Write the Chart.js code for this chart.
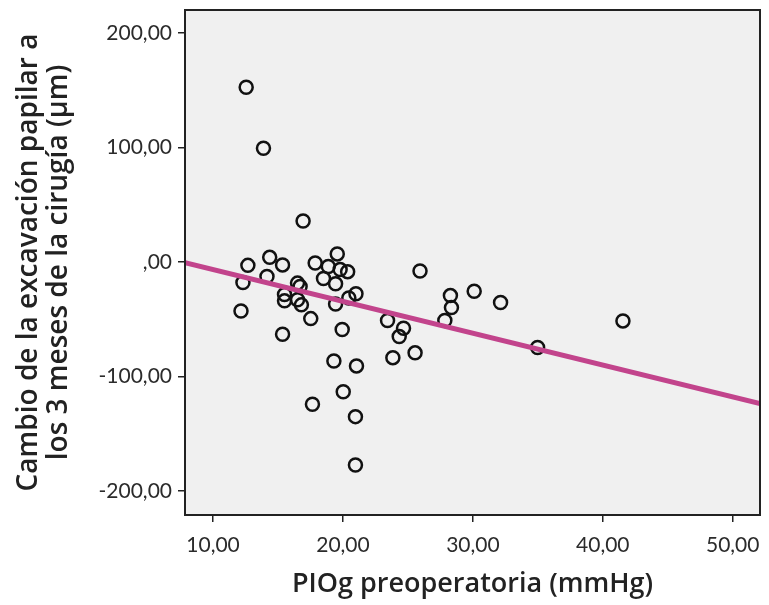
<!DOCTYPE html>
<html>
<head>
<meta charset="utf-8">
<script src="https://cdn.jsdelivr.net/npm/chart.js@4"></script>
<style>
  html, body { margin: 0; padding: 0; background: #ffffff; }
  #wrap { width: 769px; height: 605px; }
</style>
</head>
<body>
<div id="wrap"><canvas id="c" width="769" height="605"></canvas></div>
<script>
// Preoperative IOP (mmHg) per eye
const pioPreop = [
  12.55, 13.88, 16.93, 12.68, 14.36, 15.35, 12.30, 14.15, 12.15, 15.35,
  15.50, 15.50, 16.50, 16.70, 16.50, 16.80, 17.86, 18.87, 19.56, 19.78,
  20.36, 18.50, 19.43, 21.00, 20.45, 19.43, 17.52, 19.94, 23.43, 24.66,
  24.33, 25.93, 28.27, 28.35, 27.84, 30.10, 32.13, 34.98, 41.55, 25.55,
  19.30, 21.04, 23.84, 20.02, 17.65, 20.96, 20.96
];
// Change in optic cup excavation 3 months after surgery (µm)
const cupChange = [
  152.6, 99.3, 35.8, -3.0, 4.0, -2.6, -18.0, -12.8, -42.8, -63.2,
  -28.5, -34.0, -18.5, -21.5, -33.0, -37.5, -1.0, -4.0, 7.0, -6.7,
  -8.5, -14.5, -19.0, -27.8, -31.5, -36.7, -49.5, -59.0, -51.2, -57.9,
  -65.2, -7.9, -29.4, -39.9, -51.2, -25.6, -35.5, -74.8, -51.5, -79.4,
  -86.5, -90.8, -83.6, -113.3, -124.3, -135.1, -177.3
];
// Linear fit: intercept, slope
const fitIntercept = 21.2;
const fitSlope = -2.78;

const xRange = [7.84, 52.1];
const yRange = [-221, 220];
const xTicks = [10, 20, 30, 40, 50];
const yTicks = [-200, -100, 0, 100, 200];

const fmt = v => (v === 0 ? ',00' : v.toFixed(2).replace('.', ','));

const points = pioPreop.map((x, i) => ({ x: x, y: cupChange[i] }));
const fitLine = xRange.map(x => ({ x: x, y: fitIntercept + fitSlope * x }));

const plotFrame = {
  id: 'plotFrame',
  beforeDatasetsDraw(chart) {
    const a = chart.chartArea, ctx = chart.ctx;
    ctx.save();
    ctx.fillStyle = '#f0f0f0';
    ctx.fillRect(a.left, a.top, a.right - a.left, a.bottom - a.top);
    ctx.restore();
  },
  afterDatasetsDraw(chart) {
    const a = chart.chartArea, ctx = chart.ctx;
    ctx.save();
    ctx.strokeStyle = '#222222';
    ctx.lineWidth = 2;
    ctx.strokeRect(a.left, a.top, a.right - a.left, a.bottom - a.top);
    ctx.restore();
  }
};

new Chart(document.getElementById('c'), {
  type: 'scatter',
  data: {
    datasets: [
      {
        type: 'line',
        data: fitLine,
        borderColor: '#c2448c',
        borderWidth: 5,
        pointRadius: 0,
        fill: false,
        order: 0
      },
      {
        data: points,
        pointStyle: 'circle',
        pointRadius: 6.5,
        pointBorderWidth: 2.5,
        pointBorderColor: '#111111',
        pointBackgroundColor: 'rgba(0,0,0,0)',
        order: 1
      }
    ]
  },
  plugins: [plotFrame],
  options: {
    responsive: false,
    animation: false,
    layout: { padding: { top: 10, right: 4, left: 0, bottom: 0 } },
    plugins: { legend: { display: false }, tooltip: { enabled: false } },
    scales: {
      x: {
        type: 'linear',
        min: xRange[0],
        max: xRange[1],
        afterBuildTicks: s => { s.ticks = xTicks.map(v => ({ value: v })); },
        afterFit: s => { s.height = 90; s.paddingLeft = 0; s.paddingRight = 0; },
        grid: { drawOnChartArea: false, drawTicks: true, tickLength: 7, color: '#222222', lineWidth: 1.5 },
        border: { display: false },
        ticks: {
          callback: v => fmt(v),
          color: '#2b2b2b',
          font: { family: 'Lato', size: 21 },
          padding: 11,
          maxRotation: 0
        },
        title: {
          display: true,
          text: 'PIOg preoperatoria (mmHg)',
          color: '#222222',
          font: { family: 'Open Sans', size: 27, weight: '600' },
          padding: { top: 0 }
        }
      },
      y: {
        type: 'linear',
        min: yRange[0],
        max: yRange[1],
        afterBuildTicks: s => { s.ticks = yTicks.map(v => ({ value: v })); },
        afterFit: s => { s.width = 185; s.paddingTop = 0; s.paddingBottom = 0; },
        grid: { drawOnChartArea: false, drawTicks: true, tickLength: 7, color: '#222222', lineWidth: 1.5 },
        border: { display: false },
        ticks: {
          callback: v => fmt(v),
          color: '#2b2b2b',
          font: { family: 'Lato', size: 21 },
          padding: 6
        },
        title: {
          display: true,
          text: ['Cambio de la excavación papilar a', 'los 3 meses de la cirugía (µm)'],
          color: '#222222',
          font: { family: 'Open Sans', size: 28, weight: '600', lineHeight: 1.08 },
          padding: { top: 14, bottom: 0 }
        }
      }
    }
  }
});
</script>
</body>
</html>
